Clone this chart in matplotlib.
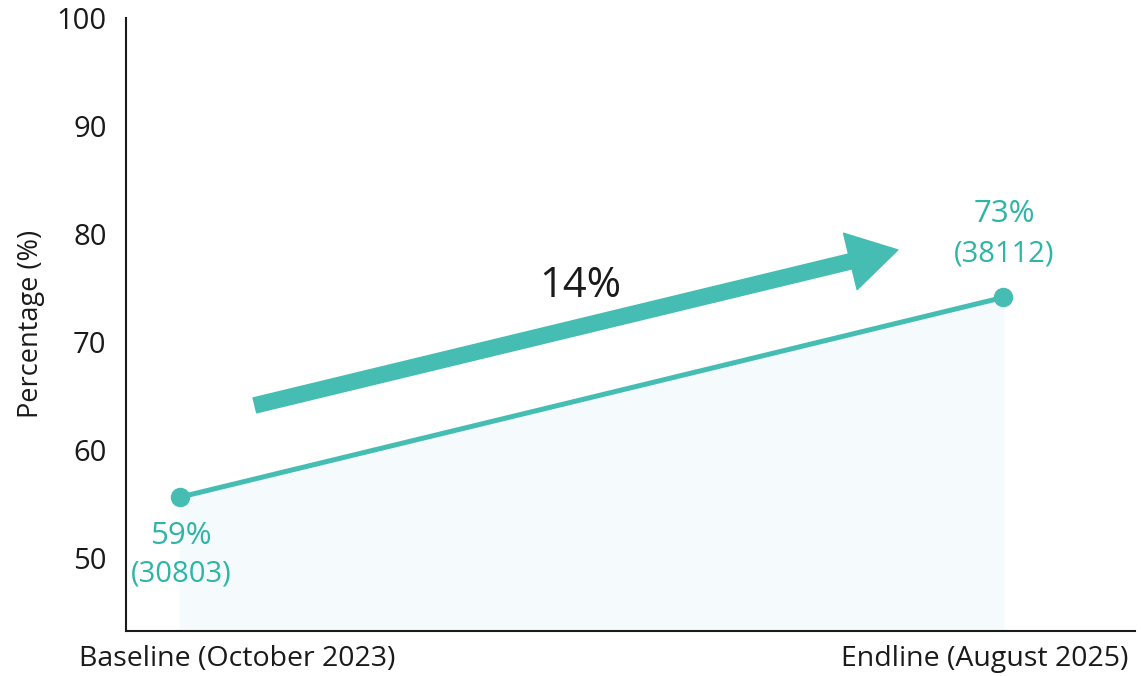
import numpy as np
import matplotlib.pyplot as plt

plt.rcParams['font.family'] = ['Open Sans', 'DejaVu Sans']

# data
periods = ['Baseline (October 2023)', 'Endline (August 2025)']
x_pos = [0, 1]
plot_vals = [55.6, 74.1]          # where the points sit on the axis
pct_labels = ['59%', '73%']
counts = ['(30803)', '(38112)']
change_label = '14%'

TEAL = '#45bdb2'
TEAL_TXT = '#2db5a6'

fig = plt.figure(figsize=(11.41, 6.76), dpi=100)
ax = fig.add_axes([0.1104, 0.0666, 0.8843, 0.907])

ax.fill_between(x_pos, plot_vals, 40, color='#f5fbfd', zorder=1)
ax.plot(x_pos, plot_vals, color=TEAL, lw=3.6, marker='o', markersize=13, zorder=3)

# value labels (offsets in points, below first point / above last point)
pct_off = [-28, 60]
cnt_off = [-55, 31]
for i in range(len(x_pos)):
    ax.annotate(pct_labels[i], (x_pos[i], plot_vals[i]), xytext=(1, pct_off[i]),
                textcoords='offset points', ha='center', va='center',
                color=TEAL_TXT, fontsize=22.5)
    ax.annotate(counts[i], (x_pos[i], plot_vals[i]), xytext=(1, cnt_off[i]),
                textcoords='offset points', ha='center', va='center',
                color=TEAL_TXT, fontsize=21)

# big change arrow
ax.annotate('', xy=(0.872, 78.5), xytext=(0.091, 64.1),
            arrowprops=dict(arrowstyle='simple,head_length=1.6,head_width=1.9,tail_width=0.5',
                            color=TEAL, mutation_scale=22, shrinkA=0, shrinkB=0),
            zorder=2)
ax.text(0.486, 75.2, change_label, ha='center', va='center', fontsize=30, color='#1a1a1a')

ax.set_xlim(-0.0656, 1.16)
ax.set_ylim(43.2, 100)
ax.set_yticks([50, 60, 70, 80, 90, 100])
ax.set_xticks([0.069, 0.977])
ax.set_xticklabels(periods)
ax.tick_params(axis='both', length=0, colors='#1a1a1a')
ax.tick_params(axis='y', labelsize=21, pad=14)
ax.tick_params(axis='x', labelsize=20.5, pad=10)
ax.set_ylabel('Percentage (%)', fontsize=19.5, color='#1a1a1a', labelpad=8)

for s in ['top', 'right']:
    ax.spines[s].set_visible(False)
for s in ['left', 'bottom']:
    ax.spines[s].set_linewidth(1.5)
    ax.spines[s].set_color('#1a1a1a')

fig.savefig('out.png', dpi=100)
